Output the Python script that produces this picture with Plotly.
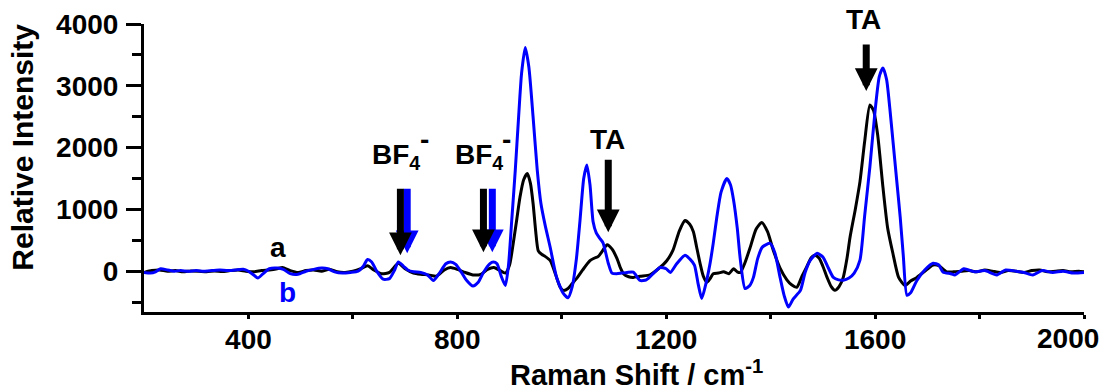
import plotly.graph_objects as go

# ---- data ----
a_x = [200, 215, 230, 245, 260, 275, 290, 305, 320, 335, 350, 365, 380, 395, 410, 425, 440, 455, 465, 480,
       495, 510, 525, 540, 555, 570, 585, 600, 615, 628, 640, 655, 670, 687, 700, 716, 730, 745, 760, 775,
       787, 800, 815, 830, 845, 858, 870, 880, 892, 900, 907, 914, 920, 927, 934, 940, 945, 950, 955, 962,
       968, 978, 988, 997, 1003, 1012, 1020, 1030, 1040, 1054, 1062, 1070, 1078, 1087, 1096, 1106, 1112, 1118, 1128, 1137,
       1150, 1169, 1185, 1201, 1213, 1225, 1236, 1245, 1252, 1258, 1265, 1271, 1278, 1284, 1290, 1300, 1310, 1320, 1329, 1336,
       1342, 1350, 1361, 1372, 1383, 1394, 1405, 1418, 1431, 1440, 1450, 1460, 1469, 1478, 1485, 1493, 1500, 1508, 1516, 1523,
       1531, 1539, 1546, 1552, 1562, 1571, 1580, 1590, 1597, 1605, 1615, 1624, 1634, 1645, 1657, 1668, 1680, 1695, 1711, 1722,
       1737, 1750, 1765, 1780, 1795, 1810, 1825, 1840, 1855, 1870, 1885, 1900, 1915, 1930, 1945, 1960, 1975, 1990, 2000]
a_y = [-20, 10, 20, 0, 10, -10, 5, 0, -10, 5, -5, 10, 20, 0, -10, 10, 20, 40, 60, 10,
       -20, 10, 20, 0, 30, -10, -20, 0, 40, 90, 20, -40, -20, 130, 40, -30, -50, -60, -80, 20,
       60, 30, -20, -60, -50, 30, 60, 20, -30, 100, 450, 850, 1200, 1480, 1580, 1420, 1100, 650, 330, 270,
       240, 170, -50, -260, -310, -280, -200, -100, 20, 170, 210, 240, 330, 430, 360, 200, 60, -40, -90, -100,
       -80, -60, 40, 170, 340, 650, 820, 760, 640, 400, 120, -80, -180, -120, -40, -30, -10, -40, 40, -10,
       -20, 120, 390, 680, 790, 640, 340, 50, -140, -220, -260, -80, 70, 220, 260, 210, 80, -100, -250, -310,
       -250, -100, 200, 550, 1000, 1450, 2100, 2690, 2600, 2200, 1360, 700, 290, -100, -230, -160, -100, 0, 100, 90,
       -10, -10, 0, 10, -10, 20, 0, -20, 10, 0, -20, 10, 20, -10, 0, 10, -10, 0, -10]

b_x = [200, 212, 222, 232, 245, 258, 270, 285, 300, 315, 330, 345, 360, 375, 390, 400, 410, 418, 428, 440,
       455, 467, 480, 495, 510, 525, 540, 552, 565, 580, 595, 610, 620, 628, 636, 645, 658, 670, 680, 687,
       697, 705, 716, 730, 743, 754, 765, 778, 787, 797, 808, 818, 830, 840, 850, 862, 869, 876, 884, 892,
       898, 904, 911, 917, 923, 930, 937, 945, 953, 960, 968, 978, 990, 1003, 1012, 1020, 1028, 1035, 1042, 1048,
       1054, 1060, 1066, 1072, 1079, 1089, 1096, 1105, 1115, 1125, 1137, 1150, 1162, 1175, 1188, 1200, 1208, 1220, 1236, 1245,
       1254, 1261, 1268, 1276, 1284, 1290, 1297, 1305, 1316, 1323, 1329, 1336, 1342, 1351, 1360, 1367, 1375, 1384, 1399, 1408,
       1418, 1426, 1434, 1443, 1457, 1466, 1476, 1489, 1500, 1510, 1520, 1530, 1539, 1550, 1560, 1571, 1580, 1590, 1600, 1608,
       1615, 1622, 1628, 1634, 1641, 1648, 1654, 1661, 1668, 1680, 1695, 1711, 1722, 1730, 1745, 1753, 1770, 1790, 1810, 1833,
       1850, 1870, 1885, 1902, 1920, 1940, 1960, 1980, 2000]
b_y = [-20, -30, -10, 40, 20, 0, 10, 0, 10, 0, 10, 20, 10, 20, 30, 0, -60, -110, -40, 40,
       50, 30, -40, -50, 0, 30, 50, 40, -10, -30, -20, 0, 80, 190, 150, 10, -130, -120, 20, 150,
       80, 20, -10, -20, -60, -150, -40, 120, 150, 110, -20, -150, -240, -180, -20, 120, 150, 120, -80, -230,
       100, 800, 1640, 2450, 3200, 3620, 3300, 2500, 1640, 1100, 750, 380, -100, -360, -430, -250, 200, 830, 1500, 1720,
       1400, 800, 620, 540, 460, 130, -30, -40, -30, -20, -15, -150, -140, -40, 60, 40, -20, 120, 260, 200,
       100, -200, -440, -200, 130, 450, 880, 1280, 1500, 1400, 1150, 700, 180, -280, -230, -100, 200, 390, 450, 300,
       -100, -400, -580, -450, -310, -20, 180, 290, 230, 60, -100, -140, -145, -110, -30, 180, 900, 1690, 2600, 3150,
       3290, 3100, 2650, 2120, 1500, 880, 250, -390, -350, -150, 20, 130, 100, -15, -40, -60, 40, -10, 10, -60,
       20, 0, -20, -60, 10, -20, 0, -30, -20]

x_ticks = [400, 800, 1200, 1600, 2000]
x_ticktext = ["400", "800", "1200", "1600", ""]   # "2000" drawn as an inset label at the axis end
x_minor = [600, 1000, 1400, 1800]
y_ticks = [0, 1000, 2000, 3000, 4000]
y_minor = [-500, 500, 1500, 2500, 3500]

FONT = "Liberation Sans"
BLUE = "#0000ff"

fig = go.Figure()
fig.add_trace(go.Scatter(x=a_x, y=a_y, mode="lines",
                         line=dict(color="black", width=3, shape="spline", smoothing=0.6), name="a"))
fig.add_trace(go.Scatter(x=b_x, y=b_y, mode="lines",
                         line=dict(color=BLUE, width=3, shape="spline", smoothing=0.6), name="b"))

ann = []
def arrow(x, y, ay, color):
    return dict(x=x, y=y, xref="x", yref="y", ax=0, ay=ay, text="", showarrow=True,
                arrowhead=2, arrowwidth=7, arrowsize=0.65, arrowcolor=color, standoff=0)

ann += [arrow(704, 291, -66, BLUE), arrow(867, 308, -65, BLUE)]
ann += [arrow(691, 259, -68, "black"), arrow(850, 308, -65, "black"),
        arrow(1089, 631, -74, "black"), arrow(1583, 2914, -48, "black")]

def label(x, y, t, color="black", size=28, yref="y"):
    return dict(x=x, y=y, xref="x", yref=yref, text=t, showarrow=False,
                font=dict(family=FONT, size=size, color=color, weight="bold"),
                xanchor="center", yanchor="middle")

ann += [label(683, 1850, "BF<sub>4</sub>"), label(737, 2130, "-"),
        label(842, 1850, "BF<sub>4</sub>"), label(894, 2130, "-"),
        label(1087, 2137, "TA"), label(1577, 1.014, "TA", yref="paper"),
        label(457, 389, "a"), label(474, -340, "b", BLUE)]

ann.append(dict(x=1, y=0, xref="paper", yref="paper", text="2000", showarrow=False,
                xanchor="right", yanchor="top", xshift=17, yshift=-9,
                font=dict(family=FONT, size=28, color="black", weight="bold")))
ann.append(dict(x=-0.129, y=0.573, xref="paper", yref="paper", text="Relative Intensity",
                textangle=-90, showarrow=False, xanchor="center", yanchor="middle",
                font=dict(family=FONT, size=30, color="black", weight="bold")))
ann.append(dict(x=0.524, y=-0.212, xref="paper", yref="paper", text="Raman Shift / cm<sup>-1</sup>",
                showarrow=False, xanchor="center", yanchor="middle",
                font=dict(family=FONT, size=29, color="black", weight="bold")))

fig.update_layout(
    width=1111, height=392,
    margin=dict(l=143.5, r=27, t=24, b=80),
    paper_bgcolor="white", plot_bgcolor="white",
    showlegend=False,
    annotations=ann,
)
fig.update_xaxes(range=[200, 2000], tickvals=x_ticks, ticktext=x_ticktext, automargin=False,
                 ticks="outside", ticklen=4, tickwidth=3, tickcolor="black",
                 showline=True, linewidth=3, linecolor="black", showgrid=False, zeroline=False,
                 tickfont=dict(family=FONT, size=28, color="black", weight="bold"),
                 ticklabelstandoff=-4,
                 minor=dict(tickvals=x_minor, ticks="outside", ticklen=4, tickwidth=3, tickcolor="black"))
fig.update_yaxes(range=[-660, 4000], tickvals=y_ticks, ticktext=[str(v) for v in y_ticks], automargin=False,
                 ticks="outside", ticklen=15, tickwidth=3, tickcolor="black",
                 showline=True, linewidth=3, linecolor="black", showgrid=False, zeroline=False,
                 tickfont=dict(family=FONT, size=28, color="black", weight="bold"),
                 ticklabelstandoff=2,
                 minor=dict(tickvals=y_minor, ticks="outside", ticklen=9, tickwidth=3, tickcolor="black"))

fig.write_html("out.html", config={"displayModeBar": False},
               post_script="document.body.style.margin='0';")
